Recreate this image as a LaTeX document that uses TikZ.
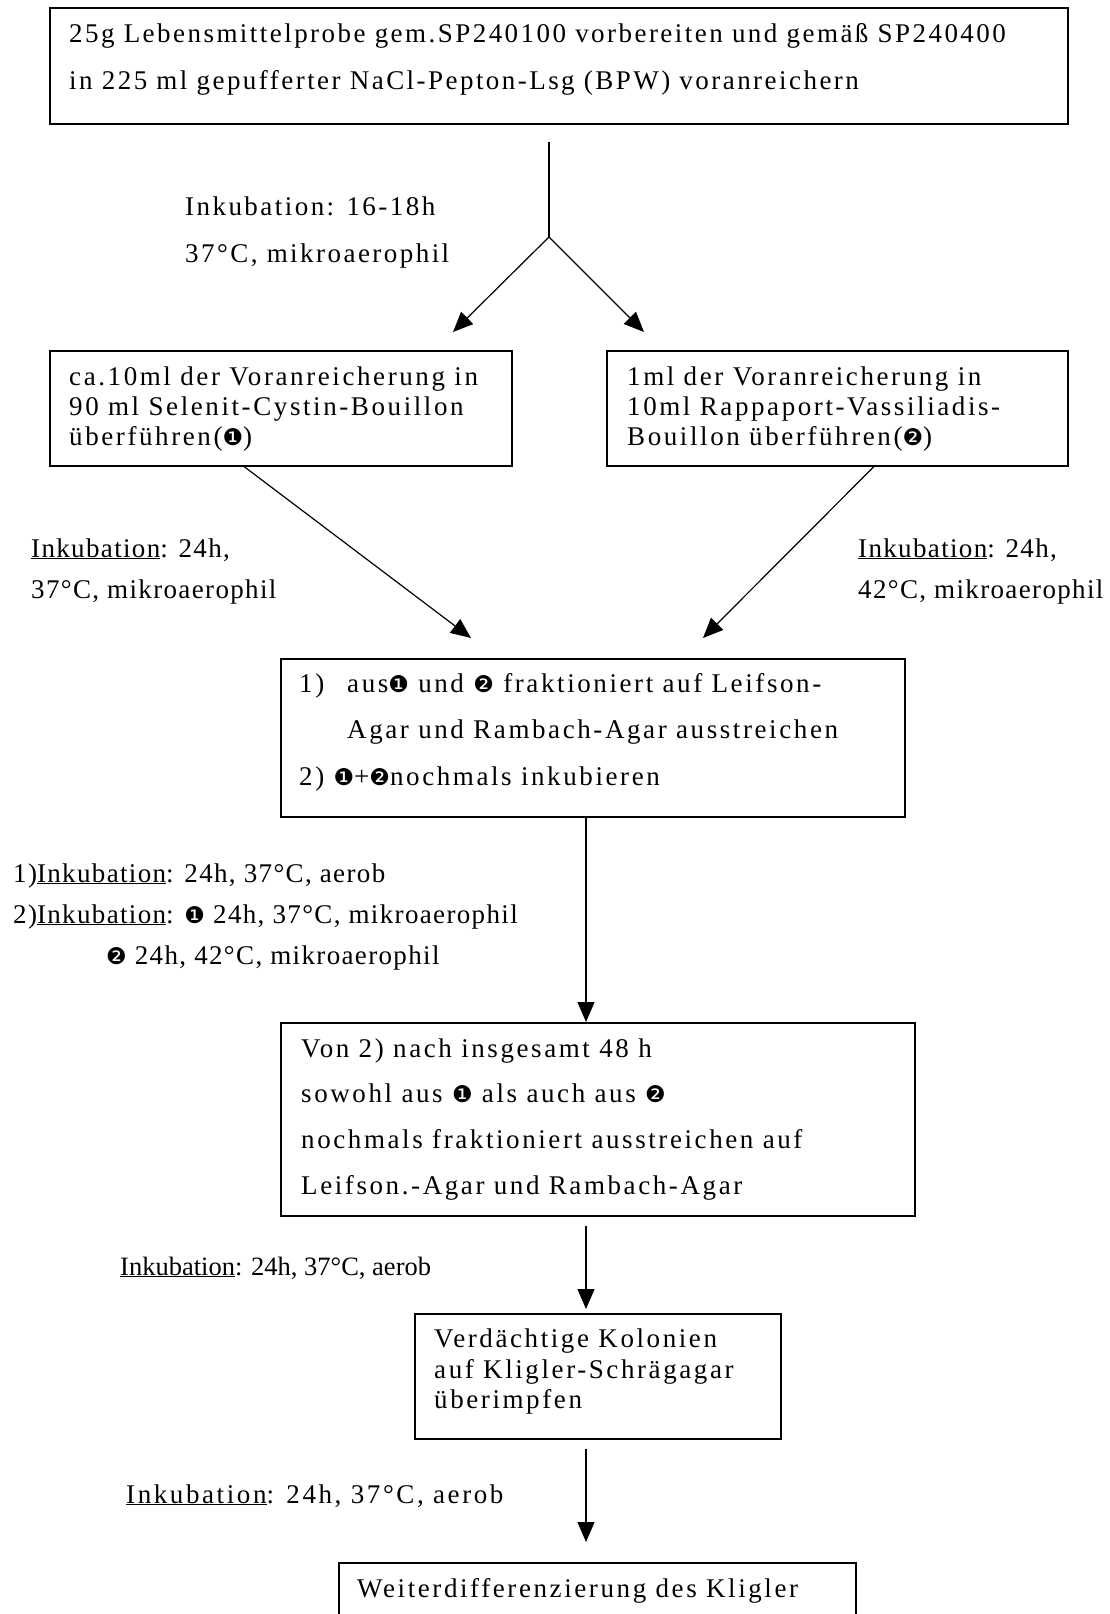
\documentclass[tikz,border=0pt]{standalone}
\usepackage{fontspec}
\setmainfont{Liberation Serif}
\newfontfamily\spfont[LetterSpace=9.6]{Liberation Serif}
\newfontfamily\spfonttop[LetterSpace=9.1]{Liberation Serif}
\newfontfamily\spfontside[LetterSpace=5]{Liberation Serif}
\newfontfamily\dingfont{DejaVu Sans}
\usetikzlibrary{arrows.meta,calc}
\newcommand{\cA}{{\dingfont\fontsize{23}{23}\selectfont ❶}}
\newcommand{\cB}{{\dingfont\fontsize{23}{23}\selectfont ❷}}
\newcommand{\ulword}[1]{\underline{#1}}
\tikzset{
  box/.style={draw, line width=1.5pt, inner sep=0pt, anchor=north west},
  txt/.style={anchor=base west, inner sep=0pt, font={\spfont\fontsize{27}{30}\selectfont}},
  toptxt/.style={anchor=base west, inner sep=0pt, font={\spfonttop\fontsize{27}{30}\selectfont}},
  sidetxt/.style={anchor=base west, inner sep=0pt, font={\spfontside\fontsize{27}{30}\selectfont}},
  plaintxt/.style={anchor=base west, inner sep=0pt, font={\fontsize{26.5}{30}\selectfont}},
  arr/.style={-{Triangle[length=20pt,width=17pt]}, line width=1.2pt},
  ln/.style={line width=1.2pt}
}
\begin{document}
\begin{tikzpicture}[x=1pt,y=-1pt]
\useasboundingbox (0,0) rectangle (1109,1614);
\fill[white] (0,0) rectangle (1109,1614);
\clip (0,0) rectangle (1109,1614);

% boxes
\node[box, minimum width=1018pt, minimum height=116pt] (b1) at (49,7) {};
\node[box, minimum width=462pt, minimum height=115pt] (b2) at (49,350) {};
\node[box, minimum width=461pt, minimum height=115pt] (b3) at (606,350) {};
\node[box, minimum width=624pt, minimum height=158pt] (b4) at (280,658) {};
\node[box, minimum width=634pt, minimum height=193pt] (b5) at (280,1022) {};
\node[box, minimum width=366pt, minimum height=125pt] (b6) at (414,1313) {};
\node[box, minimum width=517pt, minimum height=110pt] (b7) at (338,1562) {};

% texts in boxes
\node[toptxt] (t1a) at (69,42) {25g Lebensmittelprobe gem.SP240100 vorbereiten und gemäß SP240400};
\node[toptxt] (t1b) at (69,89) {in 225 ml gepufferter NaCl-Pepton-Lsg (BPW) voranreichern};

\node[txt] (t2a) at (69,385) {ca.10ml der Voranreicherung in};
\node[txt] (t2b) at (69,415) {90 ml Selenit-Cystin-Bouillon};
\node[txt] (t2c) at (69,445) {überführen(\cA)};

\node[txt] (t3a) at (627,385) {1ml der Voranreicherung in};
\node[txt] (t3b) at (627,415) {10ml Rappaport-Vassiliadis-};
\node[txt] (t3c) at (627,445) {Bouillon überführen(\cB)};

\node[txt] (t4n) at (299,692) {1)};
\node[txt] (t4a) at (347,692) {aus\cA{} und \cB{} fraktioniert auf Leifson-};
\node[txt] (t4b) at (347,738) {Agar und Rambach-Agar ausstreichen};
\node[txt] (t4c) at (299,785) {2) \cA+\cB nochmals inkubieren};

\node[txt] (t5a) at (301,1057) {Von 2) nach insgesamt 48 h};
\node[txt] (t5b) at (301,1102) {sowohl aus \cA{} als auch aus \cB};
\node[txt] (t5c) at (301,1148) {nochmals fraktioniert ausstreichen auf};
\node[txt] (t5d) at (301,1194) {Leifson.-Agar und Rambach-Agar};

\node[txt] (t6a) at (434,1347) {Verdächtige Kolonien};
\node[txt] (t6b) at (434,1378) {auf Kligler-Schrägagar};
\node[txt] (t6c) at (434,1408) {überimpfen};

\node[txt] (t7a) at (357,1597) {Weiterdifferenzierung des Kligler};

% labels
\node[toptxt] (l1a) at (185,215) {Inkubation: 16-18h};
\node[toptxt] (l1b) at (185,262) {37°C, mikroaerophil};

\node[sidetxt] (l2a) at (31,557) {\ulword{Inkubation}: 24h,};
\node[sidetxt] (l2b) at (31,598) {37°C, mikroaerophil};
\node[sidetxt] (l3a) at (858,557) {\ulword{Inkubation}: 24h,};
\node[sidetxt] (l3b) at (858,598) {42°C, mikroaerophil};

\node[sidetxt] (l4a) at (13,882) {1)\ulword{Inkubation}: 24h, 37°C, aerob};
\node[sidetxt] (l4b) at (13,923) {2)\ulword{Inkubation}: \cA{} 24h, 37°C, mikroaerophil};
\node[sidetxt] (l4c) at (106,964) {\cB{} 24h, 42°C, mikroaerophil};

\node[plaintxt] (l5) at (120,1275) {\ulword{Inkubation}: 24h, 37°C, aerob};
\node[txt] (l6) at (126,1503) {\ulword{Inkubation}: 24h, 37°C, aerob};

% connectors
\coordinate (s0) at (549,142);
\coordinate (split) at (549,237);
\coordinate (tip2) at (453,332);
\coordinate (tip3) at (644,332);
\coordinate (tip4l) at (471,638);
\coordinate (tip4r) at (703,638);
\coordinate (v) at (586,0);

\draw[ln] (s0) -- (split);
\draw[arr] (split) -- (tip2);
\draw[arr] (split) -- (tip3);
\draw[arr] ($(b2.south west)+(195,0)$) -- (tip4l);
\draw[arr] ($(b3.south west)+(268,0)$) -- (tip4r);
\draw[arr] (b4.south -| v) -- (b5.north -| v);
\draw[arr] ($(b5.south -| v)+(0,9)$) -- ($(b6.north -| v)+(0,-4)$);
\draw[arr] ($(b6.south -| v)+(0,9)$) -- ($(b7.north -| v)+(0,-20)$);
\end{tikzpicture}
\end{document}
